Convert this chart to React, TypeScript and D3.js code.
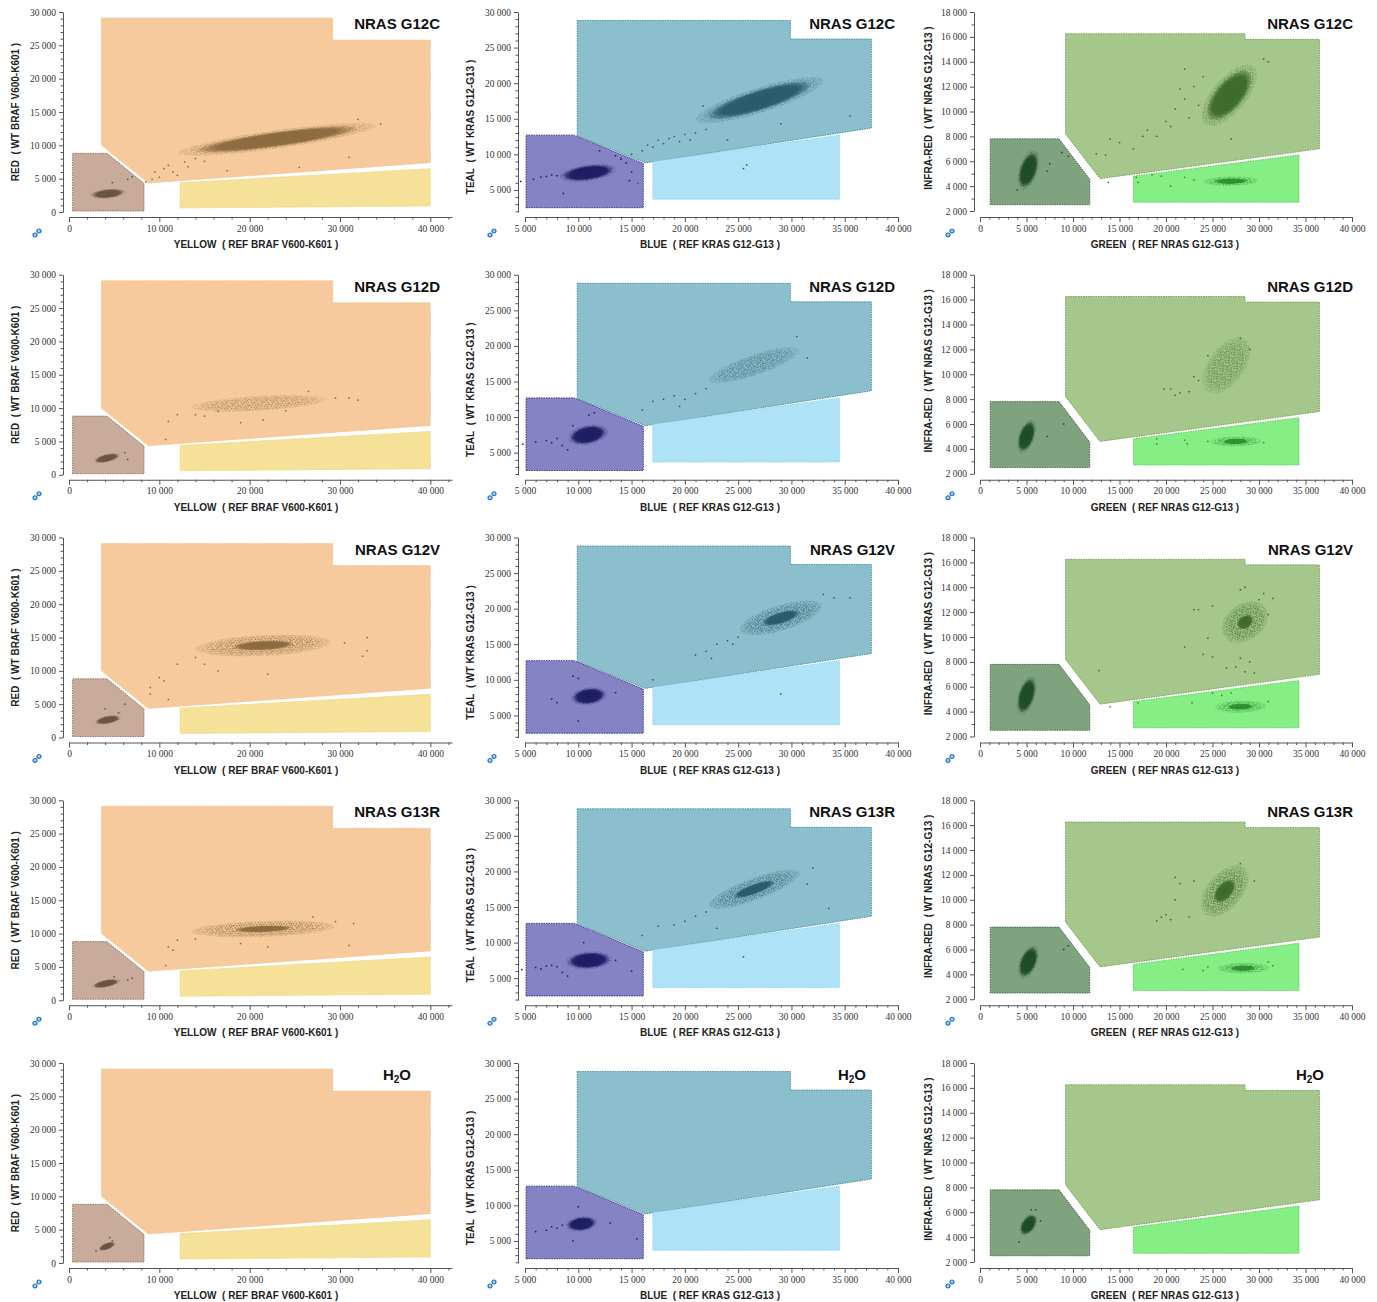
import React, { useRef, useEffect } from "react";
import * as d3 from "d3";

// samples, one per row
const sampleNames = ["NRAS G12C", "NRAS G12D", "NRAS G12V", "NRAS G13R", "H2O"];

// one column per assay
const xTitles = ["YELLOW\u00a0\u00a0(\u00a0REF BRAF V600-K601\u00a0)", "BLUE\u00a0\u00a0(\u00a0REF KRAS G12-G13\u00a0)", "GREEN\u00a0\u00a0(\u00a0REF NRAS G12-G13\u00a0)"];
const yTitles = ["RED\u00a0\u00a0(\u00a0WT BRAF V600-K601\u00a0)", "TEAL\u00a0\u00a0(\u00a0WT KRAS G12-G13\u00a0)", "INFRA-RED\u00a0\u00a0(\u00a0WT NRAS G12-G13\u00a0)"];

const xDomains = [[0, 42400], [5000, 40000], [0, 40000]];
const yDomains = [[0, 30000], [1900, 30000], [2000, 18000]];
const xMajor = [
  [0, 10000, 20000, 30000, 40000],
  [5000, 10000, 15000, 20000, 25000, 30000, 35000, 40000],
  [0, 5000, 10000, 15000, 20000, 25000, 30000, 35000, 40000],
];
const yMajor = [
  [0, 5000, 10000, 15000, 20000, 25000, 30000],
  [5000, 10000, 15000, 20000, 25000, 30000],
  [2000, 4000, 6000, 8000, 10000, 12000, 14000, 16000, 18000],
];
const xMinorStep = [2000, 1000, 1000];
const yMinorStep = [1000, 1000, 1000];

// gates (double negative, double positive, single positive) per column
const dnGates = [
  [[400, 150], [400, 8800], [4200, 8800], [8300, 4300], [8300, 150]],
  [[5100, 2500], [5100, 12700], [9600, 12700], [16100, 8700], [16100, 2500]],
  [[1100, 2500], [1100, 7800], [8500, 7800], [11800, 4550], [11800, 2500]],
];
const dpGates = [
  [[3600, 29100], [29200, 29100], [29200, 25800], [40000, 25800], [40000, 7400], [8800, 4350], [3600, 10000]],
  [[9900, 28800], [29900, 28800], [29900, 26200], [37500, 26200], [37500, 13700], [16300, 8800], [9900, 12600]],
  [[9200, 16250], [28500, 16250], [28500, 15800], [36500, 15800], [36500, 7000], [12900, 4600], [9200, 8200]],
];
const spGates = [
  [[12300, 4400], [40000, 6500], [40000, 900], [12300, 600]],
  [[17000, 9000], [34500, 12700], [34500, 3700], [17000, 3700]],
  [[16500, 4800], [34300, 6500], [34300, 2700], [16500, 2700]],
];

// droplet clouds: centre, half extent in x / y, correlation, dense core share
const brafClouds = [
  [
    { g: "dn", cx: 4300, cy: 2750, sx: 2000, sy: 800, r: 0.3, core: 0.85 },
    { g: "dp", cx: 23000, cy: 10900, sx: 11000, sy: 2500, r: 0.82, core: 0.8 },
  ],
  [
    { g: "dn", cx: 4200, cy: 2500, sx: 1500, sy: 800, r: 0.55, core: 0.85 },
    { g: "dp", cx: 21000, cy: 10700, sx: 7500, sy: 1300, r: 0.45, core: 0 },
  ],
  [
    { g: "dn", cx: 4300, cy: 2650, sx: 1500, sy: 750, r: 0.45, core: 0.85 },
    { g: "dp", cx: 21500, cy: 13800, sx: 7500, sy: 1700, r: 0.3, core: 0.45 },
  ],
  [
    { g: "dn", cx: 4100, cy: 2500, sx: 1600, sy: 750, r: 0.55, core: 0.85 },
    { g: "dp", cx: 21500, cy: 10700, sx: 8000, sy: 1300, r: 0.3, core: 0.4 },
  ],
  [
    { g: "dn", cx: 4200, cy: 2500, sx: 1000, sy: 750, r: 0.6, core: 0.85 },
  ],
];
const krasClouds = [
  [
    { g: "dn", cx: 10900, cy: 7400, sx: 2700, sy: 1300, r: 0.4, core: 0.85 },
    { g: "dp", cx: 27000, cy: 17600, sx: 6000, sy: 3300, r: 0.82, core: 0.8 },
  ],
  [
    { g: "dn", cx: 10900, cy: 7500, sx: 1900, sy: 1500, r: 0.3, core: 0.85 },
    { g: "dp", cx: 26500, cy: 17300, sx: 4300, sy: 2600, r: 0.8, core: 0 },
  ],
  [
    { g: "dn", cx: 11000, cy: 7700, sx: 1700, sy: 1300, r: 0.2, core: 0.85 },
    { g: "dp", cx: 29000, cy: 18700, sx: 3900, sy: 2500, r: 0.65, core: 0.45 },
  ],
  [
    { g: "dn", cx: 11000, cy: 7500, sx: 2200, sy: 1300, r: 0.15, core: 0.85 },
    { g: "dp", cx: 26500, cy: 17500, sx: 4300, sy: 2800, r: 0.8, core: 0.45 },
  ],
  [
    { g: "dn", cx: 10300, cy: 7400, sx: 1500, sy: 1100, r: 0.2, core: 0.85 },
  ],
];
const nrasClouds = [
  [
    { g: "dn", cx: 5200, cy: 5300, sx: 1200, sy: 1600, r: 0.45, core: 0.85 },
    { g: "dp", cx: 26800, cy: 11300, sx: 3000, sy: 2500, r: 0.65, core: 0.8 },
    { g: "sp", cx: 27000, cy: 4400, sx: 3000, sy: 400, r: 0.1, core: 0.6 },
  ],
  [
    { g: "dn", cx: 5000, cy: 5000, sx: 1050, sy: 1350, r: 0.45, core: 0.85 },
    { g: "dp", cx: 26500, cy: 10700, sx: 2600, sy: 2300, r: 0.5, core: 0 },
    { g: "sp", cx: 27500, cy: 4600, sx: 2800, sy: 420, r: 0.1, core: 0.5 },
  ],
  [
    { g: "dn", cx: 5000, cy: 5300, sx: 1100, sy: 1550, r: 0.45, core: 0.85 },
    { g: "dp", cx: 28500, cy: 11200, sx: 2500, sy: 1700, r: 0.3, core: 0.35 },
    { g: "sp", cx: 28000, cy: 4400, sx: 2800, sy: 520, r: 0.1, core: 0.5 },
  ],
  [
    { g: "dn", cx: 5200, cy: 5000, sx: 1150, sy: 1350, r: 0.45, core: 0.85 },
    { g: "dp", cx: 26300, cy: 10700, sx: 2600, sy: 2100, r: 0.5, core: 0.45 },
    { g: "sp", cx: 28300, cy: 4500, sx: 2800, sy: 450, r: 0.05, core: 0.5 },
  ],
  [
    { g: "dn", cx: 5200, cy: 5000, sx: 1000, sy: 900, r: 0.45, core: 0.85 },
  ],
];

// stray droplets: [gate, x, y]
const brafStray = [
  [["dp", 8500, 4500], ["dp", 9500, 6000], ["dp", 10500, 6500], ["dp", 11000, 7000], ["dn", 7000, 5300],
   ["dp", 12000, 5500], ["dp", 9200, 4900], ["dn", 6500, 4900], ["dp", 10000, 5200], ["dp", 31000, 8200],
   ["dp", 25500, 6700], ["dp", 17500, 6200], ["dp", 34500, 13200], ["dp", 32000, 13900], ["dn", 4800, 4400],
   ["dp", 11500, 6000], ["dp", 12800, 7500], ["dp", 13200, 6800], ["dp", 14000, 8000], ["dp", 15000, 7600]],
  [["dp", 11000, 8000], ["dp", 12000, 9000], ["dp", 10700, 5300], ["dp", 29500, 11500], ["dp", 31000, 11500],
   ["dp", 32000, 11200], ["dp", 19000, 7800], ["dp", 14000, 9000], ["dp", 15000, 8800], ["dp", 26500, 12500],
   ["dp", 21500, 8200], ["dn", 6200, 3300], ["dn", 6500, 2300], ["dp", 16500, 9500], ["dp", 24000, 9600]],
  [["dp", 9000, 7500], ["dp", 10000, 9000], ["dp", 10500, 8500], ["dp", 11000, 5700], ["dp", 12000, 11000],
   ["dp", 9000, 6500], ["dp", 33000, 15000], ["dp", 33000, 13000], ["dp", 32500, 12200], ["dp", 16500, 10000],
   ["dp", 22000, 9500], ["dp", 30500, 14200], ["dn", 6200, 5000], ["dn", 4000, 4300], ["dn", 5500, 3700],
   ["dp", 14000, 12000], ["dp", 15000, 11000]],
  [["dp", 11000, 8000], ["dp", 11500, 7500], ["dp", 10700, 5200], ["dp", 12000, 9000], ["dp", 31000, 8200],
   ["dp", 31500, 11500], ["dp", 27000, 12500], ["dp", 19000, 8500], ["dp", 22000, 8000], ["dn", 6500, 3000],
   ["dn", 7000, 3300], ["dn", 5000, 3500], ["dp", 14000, 9200], ["dp", 29500, 11800]],
  [["dn", 3000, 1800], ["dn", 4500, 3800], ["dn", 4800, 3300]],
];
const krasStray = [
  [["dn", 4600, 6200], ["dn", 5800, 6500], ["dn", 6500, 6800], ["dn", 7000, 6900], ["dn", 7500, 7100],
   ["dn", 8000, 7000], ["dn", 8600, 4500], ["dn", 14000, 9300], ["dn", 14500, 8800], ["dn", 15000, 7500],
   ["dn", 14800, 6300], ["dn", 13500, 9800], ["dn", 12000, 10500], ["dp", 14000, 9500], ["dp", 15000, 10000],
   ["dp", 16000, 10500], ["dp", 17000, 11000], ["dp", 18000, 11500], ["dp", 19000, 12500], ["dp", 20000, 12800],
   ["dp", 21000, 13000], ["dp", 17500, 12000], ["dp", 22000, 13500], ["dp", 20500, 12000], ["dp", 21700, 16800],
   ["dp", 35500, 15400], ["dp", 29000, 14300], ["dp", 24000, 12000], ["sp", 25500, 8000], ["sp", 25800, 8500],
   ["sp", 15600, 5900], ["dp", 18500, 12200], ["dp", 19500, 11800], ["dp", 16500, 11300]],
  [["dn", 4800, 6200], ["dn", 6000, 6500], ["dn", 7000, 6700], ["dn", 7500, 6400], ["dn", 8000, 7000],
   ["dn", 8500, 6000], ["dn", 9000, 5400], ["dn", 11000, 10300], ["dn", 11500, 10600], ["dn", 9500, 8800],
   ["dp", 16000, 11000], ["dp", 17000, 12200], ["dp", 18000, 12500], ["dp", 19000, 13000], ["dp", 20000, 12500],
   ["dp", 21000, 13300], ["dp", 22000, 14000], ["dp", 19500, 11500], ["dp", 31500, 18300], ["dp", 30500, 21300]],
  [["dn", 7500, 7300], ["dn", 8000, 6800], ["dn", 9500, 10500], ["dn", 10000, 10200], ["dn", 13500, 8200],
   ["dn", 10000, 4200], ["dp", 21000, 13500], ["dp", 22000, 14000], ["dp", 23000, 15000], ["dp", 24000, 15500],
   ["dp", 22500, 13000], ["dp", 17000, 10000], ["dp", 34000, 21500], ["dp", 35500, 21500], ["dp", 33000, 22000],
   ["sp", 29000, 8000], ["dp", 25000, 16000], ["dp", 24500, 15000]],
  [["dn", 4700, 6200], ["dn", 6000, 6500], ["dn", 6500, 6300], ["dn", 7000, 6700], ["dn", 7500, 6800],
   ["dn", 8000, 6600], ["dn", 8500, 5800], ["dn", 9000, 5300], ["dn", 15000, 6000], ["dn", 10500, 10000],
   ["dn", 13500, 7500], ["dp", 16000, 11000], ["dp", 17500, 12300], ["dp", 19000, 12500], ["dp", 20000, 13000],
   ["dp", 21000, 13700], ["dp", 22000, 14300], ["dp", 33500, 14800], ["dp", 31500, 18200], ["dp", 32000, 20500],
   ["dp", 23000, 12000], ["sp", 25500, 8000]],
  [["dn", 6000, 6300], ["dn", 7000, 6500], ["dn", 7500, 7000], ["dn", 8000, 6800], ["dn", 9500, 5000],
   ["dn", 10000, 9800], ["dn", 13000, 7500], ["dn", 15500, 5300], ["dn", 8500, 7200]],
];
const nrasStray = [
  [["dn", 8800, 6700], ["dn", 9500, 6400], ["dn", 7500, 5800], ["dn", 7200, 5200], ["dn", 4000, 3700],
   ["dp", 13500, 6500], ["dp", 14000, 7800], ["dp", 15000, 7500], ["dp", 16500, 7000], ["dp", 17500, 8000],
   ["dp", 18000, 8500], ["dp", 19000, 8000], ["dp", 20000, 9200], ["dp", 21000, 10200], ["dp", 21500, 11800],
   ["dp", 22000, 13400], ["dp", 23000, 12000], ["dp", 24000, 12800], ["dp", 22500, 9500], ["dp", 20500, 8800],
   ["dp", 12500, 6600], ["dp", 27000, 7800], ["dp", 30500, 14200], ["dp", 31000, 14000], ["sp", 16800, 4700],
   ["sp", 17000, 4300], ["sp", 18500, 4900], ["sp", 19500, 4800], ["sp", 20500, 4000], ["sp", 22000, 4700],
   ["sp", 23000, 4500], ["sp", 13800, 4300], ["dp", 23500, 10500], ["dp", 22000, 11000]],
  [["dn", 9000, 6000], ["dn", 7200, 5000], ["dp", 19800, 8800], ["dp", 20500, 8800], ["dp", 21500, 8500],
   ["dp", 21000, 8300], ["dp", 22500, 8600], ["dp", 23500, 9500], ["dp", 23000, 9800], ["dp", 28000, 12900],
   ["dp", 29000, 12000], ["dp", 24500, 11500], ["sp", 19000, 4800], ["sp", 19000, 4400], ["sp", 22000, 4700],
   ["sp", 22300, 4400], ["sp", 24500, 4600], ["sp", 30500, 4500]],
  [["dp", 12800, 7300], ["dp", 22000, 9200], ["dp", 23000, 12200], ["dp", 23500, 12200], ["dp", 24000, 8600],
   ["dp", 25000, 8400], ["dp", 24500, 9900], ["dp", 25000, 12500], ["dp", 26500, 7500], ["dp", 27500, 7600],
   ["dp", 28000, 8300], ["dp", 28500, 7200], ["dp", 29000, 8000], ["dp", 29500, 7100], ["dp", 28000, 13800],
   ["dp", 28500, 14000], ["dp", 30500, 13500], ["dp", 30000, 13000], ["dp", 31500, 13100], ["dp", 31000, 11800],
   ["sp", 17000, 4700], ["sp", 22800, 4700], ["sp", 25000, 5500], ["sp", 26000, 5300], ["sp", 27000, 5500],
   ["sp", 14000, 4400], ["sp", 31000, 4800]],
  [["dn", 9000, 6000], ["dn", 9500, 6300], ["dp", 19000, 8300], ["dp", 19500, 8600], ["dp", 20000, 8800],
   ["dp", 21000, 11800], ["dp", 21500, 11300], ["dp", 21000, 10000], ["dp", 20500, 8400], ["dp", 22500, 8600],
   ["dp", 23000, 11500], ["dp", 29500, 11500], ["dp", 28000, 12900], ["sp", 21800, 4400], ["sp", 24000, 4300],
   ["sp", 24500, 4600], ["sp", 31000, 5000], ["sp", 31500, 4700]],
  [["dn", 4200, 3600], ["dn", 5500, 6200], ["dn", 6000, 6200], ["dn", 6500, 5300]],
];

const cloudsByCol = [brafClouds, krasClouds, nrasClouds];
const strayByCol = [brafStray, krasStray, nrasStray];
const gatesByCol = [
  { dp: dpGates[0], sp: spGates[0], dn: dnGates[0] },
  { dp: dpGates[1], sp: spGates[1], dn: dnGates[1] },
  { dp: dpGates[2], sp: spGates[2], dn: dnGates[2] },
];

// layout
const W = 1377;
const H = 1302;
const colX = [0, 455, 913];
const rowStep = 262.75;
const xRanges = [[69, 452], [70, 443], [67, 439]];
const yRanges = [[212, 12], [212, 12], [211, 12]];
const yAxisX = [63, 63, 61];
const xAxisY = 217;
const xTitleX = [256, 255, 252];
const yTitleY = [112, 127, 108];

const gateFill = [
  { dp: "#f6ca9c", sp: "#f6e198", dn: "#c8ab9a" },
  { dp: "#8cbfcd", sp: "#aee3f7", dn: "#8583c4" },
  { dp: "#a6c78b", sp: "#85ee85", dn: "#7fa27f" },
];
const gateStroke = [
  { dp: "#efc090", sp: "#ecd27a", dn: "#8d705f" },
  { dp: "#3f8797", sp: "#85cfec", dn: "#27257a" },
  { dp: "#6f9a57", sp: "#56c956", dn: "#3f603f" },
];
const dotColor = [
  { dp: "#8b693f", sp: "#8b693f", dn: "#6a5242" },
  { dp: "#275b6a", sp: "#275b6a", dn: "#1d1b62" },
  { dp: "#3d6a2b", sp: "#2f8e30", dn: "#1f4a28" },
];

const fmt = d3.formatLocale({ decimal: ".", thousands: " ", grouping: [3], currency: ["", ""] }).format(",d");
// speckle texture for the loose fringe of each cloud (10 px tile)
const texture = [
  [0.4, 0.8], [3.1, 0.2], [6.0, 1.1], [8.5, 0.5], [1.8, 2.6], [4.6, 2.9], [7.3, 3.2], [9.4, 2.4],
  [0.2, 4.7], [2.9, 5.3], [5.8, 4.9], [8.2, 5.6], [1.4, 7.2], [4.1, 7.6], [6.8, 7.0], [9.1, 8.1],
  [2.6, 9.3], [5.4, 9.0], [7.9, 9.6],
];

function cloudShape(x, y, cl) {
  const kx = Math.abs(x(1000) - x(0)) / 1000;
  const ky = Math.abs(y(1000) - y(0)) / 1000;
  const Sx = cl.sx * kx;
  const Sy = cl.sy * ky;
  const a = Sx * Sx, b = Sy * Sy, c = -cl.r * Sx * Sy;
  const h = (a + b) / 2;
  const d = Math.sqrt(((a - b) / 2) ** 2 + c * c);
  return {
    px: x(cl.cx),
    py: y(cl.cy),
    rx: Math.sqrt(h + d),
    ry: Math.sqrt(Math.max(h - d, 9)),
    deg: (0.5 * Math.atan2(2 * c, a - b) * 180) / Math.PI,
  };
}

export default function App() {
  const svgRef = useRef(null);

  useEffect(() => {
    const svg = d3.select(svgRef.current);
    svg.selectAll("*").remove();
    const defs = svg.append("defs");

    // fading mask used by every cloud
    const fade = defs.append("radialGradient").attr("id", "fade");
    fade.append("stop").attr("offset", "0").attr("stop-color", "#fff").attr("stop-opacity", 1);
    fade.append("stop").attr("offset", "0.7").attr("stop-color", "#fff").attr("stop-opacity", 0.95);
    fade.append("stop").attr("offset", "1").attr("stop-color", "#fff").attr("stop-opacity", 0.3);

    const colorIds = {};
    dotColor.forEach((cols) => Object.values(cols).forEach((col) => { colorIds[col] = true; }));
    Object.keys(colorIds).forEach((col, i) => {
      colorIds[col] = i;
      const pat = defs.append("pattern").attr("id", `dots${i}`).attr("patternUnits", "userSpaceOnUse")
        .attr("width", 10).attr("height", 10);
      texture.forEach(([tx, ty]) => pat.append("rect").attr("x", tx).attr("y", ty).attr("width", 1.4).attr("height", 1.4).attr("fill", col));
      const gr = defs.append("radialGradient").attr("id", `core${i}`);
      gr.append("stop").attr("offset", "0").attr("stop-color", col).attr("stop-opacity", 1);
      gr.append("stop").attr("offset", "0.75").attr("stop-color", col).attr("stop-opacity", 0.95);
      gr.append("stop").attr("offset", "1").attr("stop-color", col).attr("stop-opacity", 0.15);
    });

    sampleNames.forEach((name, row) => {
      [0, 1, 2].forEach((col) => {
        const panel = svg.append("g").attr("transform", `translate(${colX[col]},${row * rowStep})`);
        const x = d3.scaleLinear().domain(xDomains[col]).range(xRanges[col]);
        const y = d3.scaleLinear().domain(yDomains[col]).range(yRanges[col]);
        const line = d3.line().x((d) => x(d[0])).y((d) => y(d[1]));

        // gates
        ["dp", "sp", "dn"].forEach((g) => {
          panel.append("path")
            .attr("d", line(gatesByCol[col][g]) + "Z")
            .attr("fill", gateFill[col][g])
            .attr("stroke", gateStroke[col][g])
            .attr("stroke-width", 0.9)
            .attr("stroke-dasharray", "1.5 1");
        });

        // clouds
        cloudsByCol[col][row].forEach((cl, i) => {
          const s = cloudShape(x, y, cl);
          const cid = colorIds[dotColor[col][cl.g]];
          const mid = `m${row}${col}${i}`;
          const mask = defs.append("mask").attr("id", mid);
          mask.append("ellipse").attr("rx", s.rx).attr("ry", s.ry).attr("fill", "url(#fade)");
          const cg = panel.append("g").attr("transform", `translate(${s.px},${s.py}) rotate(${s.deg})`);
          cg.append("ellipse").attr("rx", s.rx).attr("ry", s.ry)
            .attr("fill", `url(#dots${cid})`)
            .attr("opacity", cl.core === 0 ? 0.8 : 1)
            .attr("mask", `url(#${mid})`);
          if (cl.core > 0) {
            cg.append("ellipse")
              .attr("rx", s.rx * cl.core)
              .attr("ry", Math.max(s.ry * cl.core, Math.min(s.ry, 3)))
              .attr("fill", `url(#core${cid})`);
          }
        });

        // stray droplets
        panel.append("g").selectAll("rect")
          .data(strayByCol[col][row])
          .join("rect")
          .attr("x", (d) => x(d[1]) - 0.75)
          .attr("y", (d) => y(d[2]) - 0.75)
          .attr("width", 1.5)
          .attr("height", 1.5)
          .attr("fill", (d) => dotColor[col][d[0]]);

        // axes
        const [x0, x1] = xDomains[col];
        const [y0, y1] = yDomains[col];
        const xMinor = d3.range(Math.ceil(x0 / xMinorStep[col]) * xMinorStep[col], x1 + 1, xMinorStep[col])
          .filter((v) => !xMajor[col].includes(v));
        const yMinor = d3.range(Math.ceil(y0 / yMinorStep[col]) * yMinorStep[col], y1 + 1, yMinorStep[col])
          .filter((v) => !yMajor[col].includes(v));

        const xg = panel.append("g").attr("transform", `translate(0,${xAxisY})`);
        xg.call(d3.axisBottom(x).tickValues(xMajor[col]).tickSize(5).tickSizeOuter(0).tickFormat(fmt));
        xg.append("g").call(d3.axisBottom(x).tickValues(xMinor).tickSize(2.5).tickFormat(() => ""))
          .select(".domain").remove();

        const yg = panel.append("g").attr("transform", `translate(${yAxisX[col]},0)`);
        yg.call(d3.axisLeft(y).tickValues(yMajor[col]).tickSize(4).tickSizeOuter(0).tickFormat(fmt));
        yg.append("g").call(d3.axisLeft(y).tickValues(yMinor).tickSize(2.5).tickFormat(() => ""))
          .select(".domain").remove();

        [xg, yg].forEach((ag) => {
          ag.attr("font-family", "'Liberation Serif', serif").attr("font-size", 9.5);
          ag.selectAll("path, line").attr("stroke", "#555");
          ag.selectAll("text").attr("fill", "#333");
        });

        // axis titles
        panel.append("text")
          .attr("x", xTitleX[col]).attr("y", 248)
          .attr("text-anchor", "middle")
          .attr("font-family", "'Liberation Sans', Arial, sans-serif")
          .attr("font-weight", "bold").attr("font-size", 10).attr("fill", "#222")
          .text(xTitles[col]);
        panel.append("text")
          .attr("transform", `translate(19,${yTitleY[col]}) rotate(-90)`)
          .attr("text-anchor", "middle")
          .attr("font-family", "'Liberation Sans', Arial, sans-serif")
          .attr("font-weight", "bold").attr("font-size", 10).attr("fill", "#222")
          .text(yTitles[col]);

        // sample name
        const t = panel.append("text")
          .attr("x", 440).attr("y", 29)
          .attr("text-anchor", "end")
          .attr("font-family", "'Liberation Sans', Arial, sans-serif")
          .attr("font-weight", "bold").attr("font-size", 15).attr("fill", "#111");
        if (name === "H2O") {
          t.attr("x", 411);
          t.append("tspan").text("H");
          t.append("tspan").attr("font-size", 10).attr("dy", 3).text("2");
          t.append("tspan").attr("dy", -3).text("O");
        } else {
          t.text(name);
        }

        // link icon
        const icon = panel.append("g").attr("transform", "translate(37,233)")
          .attr("fill", "#9fd0f5").attr("stroke", "#1b6cc0").attr("stroke-width", 1.2);
        icon.append("circle").attr("cx", -2).attr("cy", 2).attr("r", 2);
        icon.append("circle").attr("cx", 2).attr("cy", -2).attr("r", 2);
      });
    });
  }, []);

  return (
    <svg
      ref={svgRef}
      width={W}
      height={H}
      style={{ position: "absolute", left: 0, top: 0, background: "#fff" }}
    />
  );
}
